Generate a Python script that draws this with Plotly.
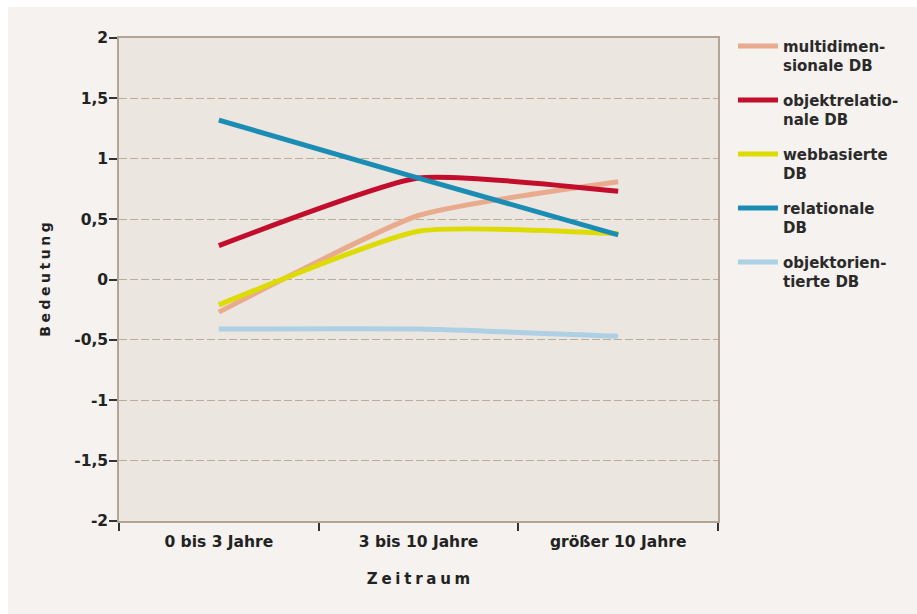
import plotly.graph_objects as go

categories = ["0 bis 3 Jahre", "3 bis 10 Jahre", "größer 10 Jahre"]
multidimensionale = [-0.27, 0.53, 0.81]
objektrelationale = [0.28, 0.84, 0.73]
webbasierte = [-0.21, 0.40, 0.38]
relationale = [1.32, 0.84, 0.37]
objektorientierte = [-0.41, -0.41, -0.47]

series_names = ["multidimen-<br>sionale DB", "objektrelatio-<br>nale DB", "webbasierte<br>DB",
                "relationale<br>DB", "objektorien-<br>tierte DB"]
series_values = [multidimensionale, objektrelationale, webbasierte, relationale, objektorientierte]
series_colors = ["#e8ab8e", "#c20e2c", "#dedb00", "#1b8db5", "#aed0e4"]

y_tickvals = [2, 1.5, 1, 0.5, 0, -0.5, -1, -1.5, -2]
y_ticktext = ["2", "1,5", "1", "0,5", "0", "-0,5", "-1", "-1,5", "-2"]

FONT = "DejaVu Sans"
sp = "\u2005"

fig = go.Figure()
for i, (name, vals, col) in enumerate(zip(series_names, series_values, series_colors)):
    fig.add_trace(go.Scatter(
        x=categories, y=vals, mode="lines", name="<b>" + name + "</b>",
        line=dict(color=col, width=5, shape="spline", smoothing=0.5),
        legendgroup=str(i),
    ))

# background frame (paper coords), drawn below
fig.add_shape(type="rect", xref="paper", yref="paper",
              x0=-0.1853, x1=1.34, y0=-0.2, y1=1.0642,
              fillcolor="#f5f2ef", line=dict(width=0), layer="below")
fig.add_shape(type="rect", xref="paper", yref="paper",
              x0=0, x1=1, y0=0, y1=1,
              fillcolor="#ece6e0", line=dict(width=0), layer="below")

fig.update_layout(
    width=917, height=614,
    margin=dict(l=119, r=199, t=38, b=93),
    paper_bgcolor="white",
    plot_bgcolor="rgba(0,0,0,0)",
    font=dict(family=FONT, color="#222222"),
    showlegend=True,
    legend=dict(
        x=1.025, y=1.017, xanchor="left", yanchor="top",
        bgcolor="rgba(0,0,0,0)", font=dict(family=FONT, size=15, color="#2a2a2a"),
        valign="top", tracegroupgap=12, itemwidth=40,
    ),
    xaxis=dict(
        type="category", range=[-0.5, 2.5],
        tickvals=categories,
        ticktext=["<b>" + c + "</b>" for c in categories],
        tickson="boundaries", ticks="outside", ticklen=8, tickwidth=1.5, tickcolor="#333333",
        ticklabelstandoff=6,
        showline=True, linecolor="#b3a593", linewidth=1.5, mirror=True,
        showgrid=False, zeroline=False,
        tickfont=dict(family=FONT, size=15.5, color="#222222"),
        title=dict(text="<b>" + sp.join("Zeitraum") + "</b>",
                   font=dict(family=FONT, size=15, color="#222222"), standoff=23),
    ),
    yaxis=dict(
        range=[-2, 2],
        tickvals=y_tickvals,
        ticktext=["<b>" + t + "</b>" for t in y_ticktext],
        ticks="outside", ticklen=8, tickwidth=1.5, tickcolor="#333333",
        ticklabelstandoff=-2,
        showline=True, linecolor="#b3a593", linewidth=1.5, mirror=True,
        showgrid=True, gridcolor="#bcae96", gridwidth=1, griddash="8px,3px",
        zeroline=False,
        tickfont=dict(family=FONT, size=15.5, color="#222222"),
        title=dict(text="<b>" + sp.join("Bedeutung") + "</b>",
                   font=dict(family=FONT, size=14, color="#222222"), standoff=20),
    ),
)

fig.write_html("out.html")
